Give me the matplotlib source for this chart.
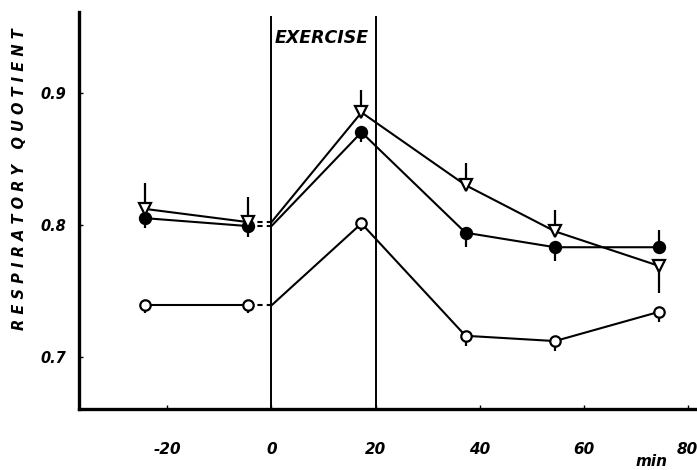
import matplotlib
matplotlib.use("Agg")
import matplotlib.pyplot as plt

# ---- data ----
times = [-24.3, -4.5, 17.3, 37.3, 54.5, 74.4]
t_start = 0.0
tri = [0.812, 0.802, 0.885, 0.830, 0.795, 0.769]
tri_start = 0.802
tri_err_lo = [0.0, 0.0, 0.0, 0.0, 0.0, 0.0205]
tri_err_hi = [0.0197, 0.019, 0.0167, 0.0167, 0.016, 0.0]
fil = [0.805, 0.799, 0.870, 0.794, 0.783, 0.783]
fil_start = 0.799
fil_err_lo = [0.0076, 0.0083, 0.0074, 0.0106, 0.0104, 0.0]
fil_err_hi = [0.0, 0.0, 0.0, 0.0, 0.0, 0.0129]
opn = [0.739, 0.739, 0.801, 0.716, 0.712, 0.734]
opn_start = 0.739
opn_err_lo = [0.006, 0.006, 0.006, 0.008, 0.0076, 0.0072]
opn_err_hi = [0.0, 0.0, 0.0, 0.0, 0.0, 0.0]
xticks = [-20, 0, 20, 40, 60, 80]
yticks = [0.7, 0.8, 0.9]
ytick_labels = ["0.7", "0.8", "0.9"]
exercise = (0, 20)

W, H = 697, 470
fig = plt.figure(figsize=(W / 100, H / 100), dpi=100)
ax = fig.add_axes([79 / W, 1 - 409 / H, (697 - 79) / W, (409 - 12) / H])
ax.set_xlim(-37.0, 81.8)
ax.set_ylim(0.6606, 0.961)

lw = 1.5
font = dict(fontweight="bold", fontstyle="italic", family="DejaVu Sans")

def series(y, y0, elo, ehi, marker, mfc, ms):
    # pre-exercise solid
    ax.plot(times[:2], y[:2], color="black", lw=lw, zorder=2)
    # dashed bridge to start
    ax.plot([times[1], t_start], [y[1], y0], color="black", lw=lw,
            ls=(0, (2.5, 2)), zorder=2)
    # exercise and post
    ax.plot([t_start] + times[2:], [y0] + y[2:], color="black", lw=lw, zorder=2)
    ax.errorbar(times, y, yerr=[elo, ehi], fmt="none", ecolor="black",
                elinewidth=1.6, capsize=0, zorder=3)
    ax.plot(times, y, ls="none", marker=marker, mfc=mfc, mec="black",
            mew=1.6, ms=ms, zorder=4)

series(opn, opn_start, opn_err_lo, opn_err_hi, "o", "white", 7.5)
series(fil, fil_start, fil_err_lo, fil_err_hi, "o", "black", 8)
series(tri, tri_start, tri_err_lo, tri_err_hi, "v", "white", 8.5)

for xv in exercise:
    ax.plot([xv, xv], [0.6606, 0.957], color="black", lw=1.4, zorder=1)

ax.text(0.7, 0.941, "EXERCISE", ha="left", va="center", fontsize=12.5, **font)

for s in ["top", "right"]:
    ax.spines[s].set_visible(False)
for s in ["left", "bottom"]:
    ax.spines[s].set_linewidth(2.4)

ax.set_xticks(xticks)
ax.set_xticklabels([str(v) for v in xticks], fontsize=11, **font)
ax.set_yticks(yticks)
ax.set_yticklabels(ytick_labels, fontsize=10.5, **font)
ax.tick_params(axis="both", direction="in", length=3, width=1)
ax.tick_params(axis="x", pad=24)
ax.tick_params(axis="y", pad=9)

fig.text(20 / W, 1 - 179 / H, "R E S P I R A T O R Y   Q U O T I E N T",
         rotation=90, ha="center", va="center", fontsize=10.5, **font)
fig.text(652 / W, 1 - 462 / H, "min", ha="center", va="center",
         fontsize=11, **font)

fig.savefig("out.png", dpi=100)
